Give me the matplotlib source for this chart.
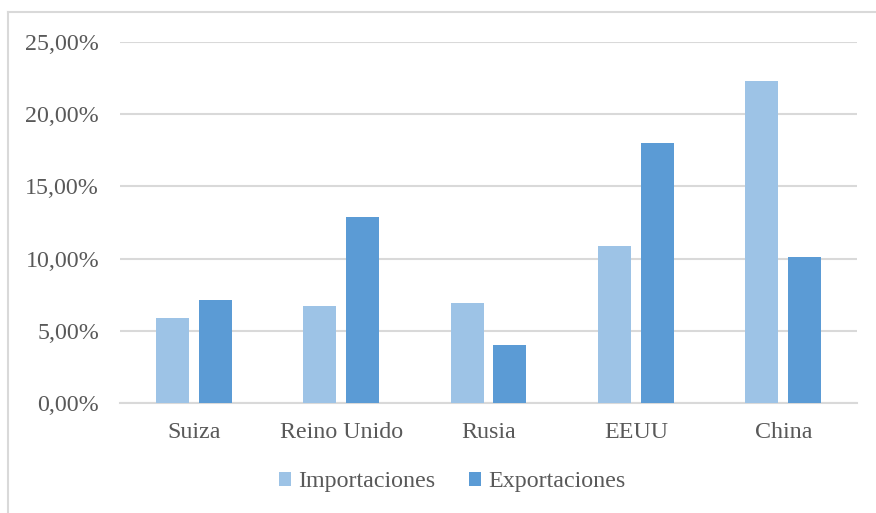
import numpy as np
import matplotlib.pyplot as plt
from matplotlib.lines import Line2D
from matplotlib.ticker import FuncFormatter

paises = ["Suiza", "Reino Unido", "Rusia", "EEUU", "China"]
importaciones = [5.89, 6.72, 6.93, 10.87, 22.30]
exportaciones = [7.13, 12.88, 4.02, 18.00, 10.11]

plt.rcParams['font.family'] = ['Liberation Serif', 'DejaVu Serif']
gris = "#595959"

fig = plt.figure(figsize=(8.76, 5.13), dpi=100)
ax = fig.add_axes([120 / 876, 110 / 513, 737 / 876, 361 / 513])

x = np.arange(len(paises))
w = 0.224
off = 0.145
ax.bar(x - off, importaciones, w, color="#9DC3E6", label="Importaciones", zorder=3)
ax.bar(x + off, exportaciones, w, color="#5B9BD5", label="Exportaciones", zorder=3)

ax.set_xlim(-0.5, len(paises) - 0.5)
ax.set_ylim(0, 25)
ax.set_yticks(np.arange(0, 26, 5))
ax.yaxis.set_major_formatter(FuncFormatter(lambda v, p: f"{v:.2f}%".replace(".", ",")))
ax.set_xticks(x)
ax.set_xticklabels(paises)
ax.tick_params(axis="both", length=0, labelsize=17.3, colors=gris)
ax.tick_params(axis="y", pad=15)
ax.tick_params(axis="x", pad=14)
ax.grid(axis="y", color="#D9D9D9", linewidth=1.5, zorder=0)
for s in ["top", "right", "left"]:
    ax.spines[s].set_visible(False)
ax.spines["bottom"].set_color("#D9D9D9")
ax.spines["bottom"].set_linewidth(1.5)

leg = fig.legend(loc="center", bbox_to_anchor=(452 / 876, 1 - 482 / 513), ncol=2,
                 frameon=False, fontsize=17.3, handlelength=0.5, handleheight=0.5,
                 handletextpad=0.3, columnspacing=1.4)
for t in leg.get_texts():
    t.set_color(gris)

# marco del gráfico
fig.add_artist(Line2D([8 / 876, 8 / 876], [0, 1 - 12 / 513], color="#D9D9D9", linewidth=1.5))
fig.add_artist(Line2D([8 / 876, 1], [1 - 12 / 513, 1 - 12 / 513], color="#D9D9D9", linewidth=1.5))

fig.savefig("out.png", dpi=100)
